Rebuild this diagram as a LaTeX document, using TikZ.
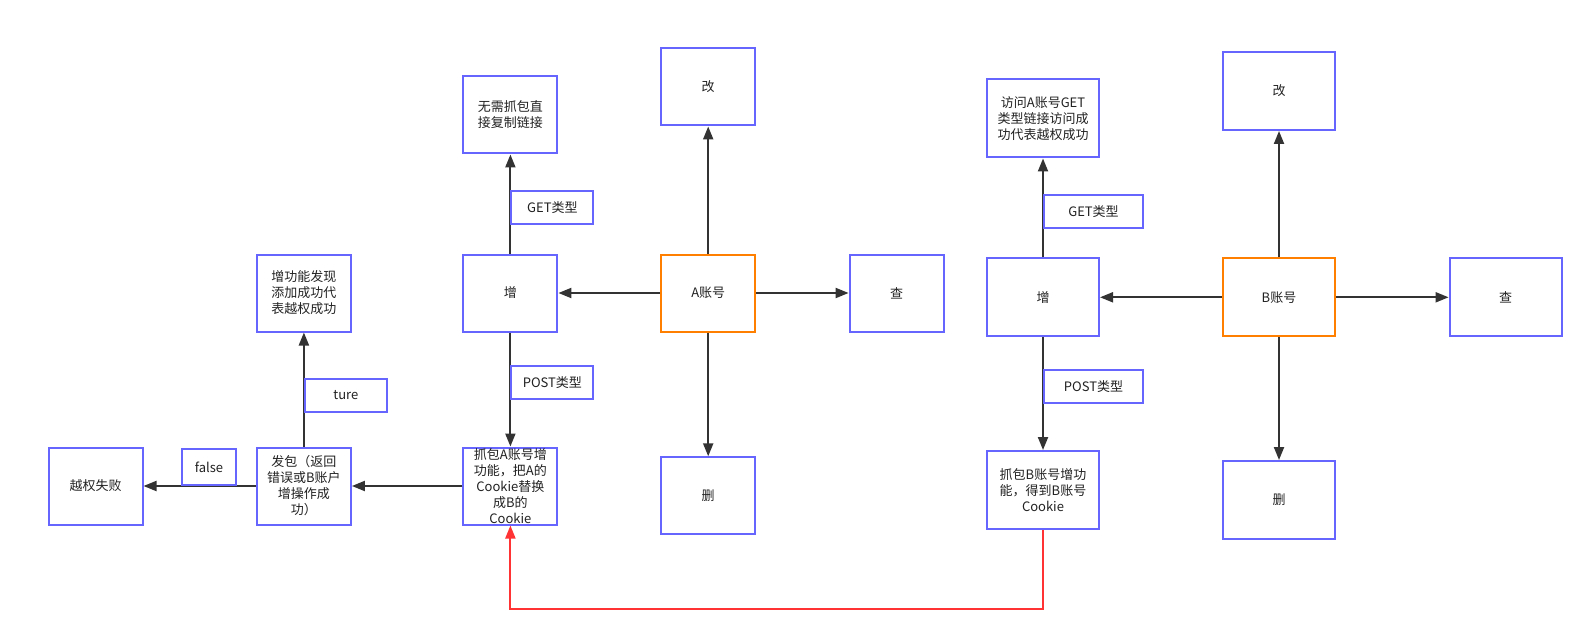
\documentclass[tikz,border=0pt]{standalone}
\usepackage{fontspec}
\setmainfont{Noto Sans CJK SC}
\usetikzlibrary{arrows.meta}
\definecolor{boxblue}{HTML}{6666FF}
\definecolor{boxorange}{HTML}{FF8000}
\definecolor{edgegray}{HTML}{333333}
\definecolor{edgered}{HTML}{FF3333}
\definecolor{txt}{HTML}{222222}
\begin{document}
\begin{tikzpicture}[x=1pt,y=-1pt,
  box/.style={draw=boxblue, line width=2pt, fill=white, minimum width=94pt, minimum height=77pt, inner sep=0pt, align=center, text=txt, font=\fontsize{13}{16}\selectfont},
  boxb/.style={box, minimum width=112pt, minimum height=78pt},
  acct/.style={draw=boxorange},
  tag/.style={box, minimum width=82pt, minimum height=33pt},
  tagb/.style={tag, minimum width=99pt},
  arr/.style={draw=edgegray, line width=2pt, -{Triangle[length=13pt,width=10pt]}},
  redarr/.style={draw=edgered, line width=2pt, -{Triangle[length=13pt,width=10pt]}},
]
\fill[white] (0,0) rectangle (1594,639);
\useasboundingbox (0,0) rectangle (1594,639);

% A side
\node[box] (ja) at (510.4,115) {无需抓包直\\接复制链接};
\node[box] (gaiA) at (708.2,87) {改};
\node[box] (zengA) at (510.4,293) {增};
\node[box, acct] (A) at (708.2,293) {A账号};
\node[box] (chaA) at (896.6,293) {查};
\node[box] (zhuaA) at (510.4,486) {抓包A账号增\\功能，把A的\\Cookie替换\\成B的\\Cookie};
\node[box] (shanA) at (708.2,495.8) {删};
\node[box] (fabao) at (303.9,486) {发包（返回\\错误或B账户\\增操作成\\功）};
\node[box] (zengfx) at (303.9,293) {增功能发现\\添加成功代\\表越权成功};
\node[box] (shibai) at (95.5,486) {越权失败};

% B side
\node[boxb] (fw) at (1043,118.5) {访问A账号GET\\类型链接访问成\\功代表越权成功};
\node[boxb] (gaiB) at (1279,91) {改};
\node[boxb] (zengB) at (1043,297.3) {增};
\node[boxb, acct] (B) at (1279,297.3) {B账号};
\node[boxb] (chaB) at (1505.6,297.3) {查};
\node[boxb] (zhuaB) at (1043,490) {抓包B账号增功\\能，得到B账号\\Cookie};
\node[boxb] (shanB) at (1279,500) {删};

% connectors A
\draw[arr] (A) -- (zengA);
\draw[arr] (A) -- (chaA);
\draw[arr] (A) -- (gaiA);
\draw[arr] (A) -- (shanA);
\draw[arr] (zengA) -- (ja);
\draw[arr] (zengA) -- (zhuaA);
\draw[arr] (zhuaA) -- (fabao);
\draw[arr] (fabao) -- (zengfx);
\draw[arr] (fabao) -- (shibai);

% connectors B
\draw[arr] (B) -- (zengB);
\draw[arr] (B) -- (chaB);
\draw[arr] (B) -- (gaiB);
\draw[arr] (B) -- (shanB);
\draw[arr] (zengB) -- (fw);
\draw[arr] (zengB) -- (zhuaB);

% red connector
\coordinate (redturn) at (510.4,609);
\draw[redarr] (zhuaB.south) |- (redturn) -- (zhuaA.south);

% edge labels
\node[tag, anchor=west] (getA) at (510.4,207.5) {GET类型};
\node[tag, anchor=west] (postA) at (510.4,382.5) {POST类型};
\node[tag, anchor=west] (ture) at (303.9,395.3) {ture};
\node[box, minimum width=54pt, minimum height=36pt, anchor=south] (false) at (209,486) {false};
\node[tagb, anchor=west] (getB) at (1043,211.5) {GET类型};
\node[tagb, anchor=west] (postB) at (1043,386.3) {POST类型};
\end{tikzpicture}
\end{document}
